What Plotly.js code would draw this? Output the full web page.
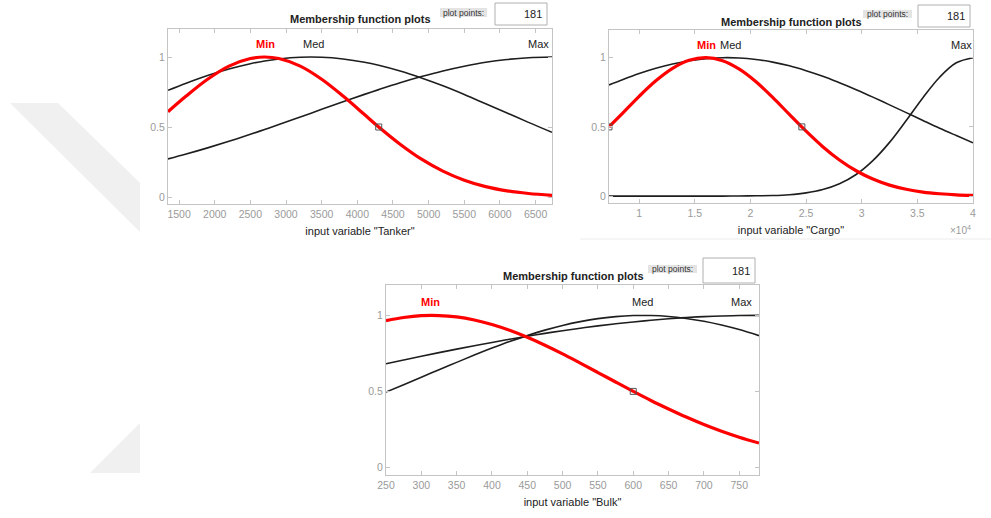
<!DOCTYPE html>
<html>
<head>
<meta charset="utf-8">
<script src="https://cdn.plot.ly/plotly-3.0.1.min.js"></script>
<style>
html,body{margin:0;padding:0;background:#fff;}
#chart{width:991px;height:518px;}
</style>
</head>
<body>
<div id="chart"></div>
<script>
// ---------- data ----------
const tankerX   = [1345,1600,1900,2200,2500,2700,2900,3200,3500,3800,4100,4300,4600,4900,5200,5500,5800,6100,6400,6730];
const tankerMin = [0.609,0.721,0.841,0.935,0.989,1.000,0.989,0.935,0.841,0.721,0.589,0.500,0.377,0.270,0.185,0.120,0.074,0.044,0.025,0.012];
const tankerMed = [0.762,0.813,0.868,0.914,0.952,0.972,0.986,0.998,0.998,0.986,0.963,0.941,0.900,0.850,0.794,0.732,0.666,0.600,0.533,0.462];
const tankerMax = [0.272,0.307,0.351,0.398,0.448,0.482,0.518,0.571,0.626,0.680,0.733,0.767,0.816,0.860,0.900,0.934,0.962,0.982,0.995,1.000];
const tankerTicks = [1500,2000,2500,3000,3500,4000,4500,5000,5500,6000,6500];
const tankerMarkX = [4300];
const tankerMarkY = [0.5];

const cargoX   = [7290,8500,10000,11500,13000,14500,16000,17500,19000,20500,22000,23500,25000,26500,28000,29500,31000,32500,34000,35500,37000,38500,40000];
const cargoMin = [0.500,0.598,0.721,0.833,0.923,0.981,1.000,0.978,0.917,0.826,0.713,0.590,0.469,0.357,0.261,0.183,0.123,0.079,0.049,0.029,0.017,0.009,0.005];
const cargoMed = [0.803,0.841,0.885,0.923,0.954,0.978,0.993,1.000,0.998,0.987,0.968,0.941,0.906,0.866,0.819,0.769,0.715,0.659,0.603,0.546,0.490,0.437,0.385];
const cargoMax = [0.000,0.000,0.000,0.000,0.000,0.000,0.000,0.000,0.001,0.002,0.004,0.010,0.023,0.047,0.089,0.156,0.256,0.388,0.546,0.711,0.859,0.963,1.000];
const cargoTicks = [10000,15000,20000,25000,30000,35000,40000];
const cargoTickText = ["1","1.5","2","2.5","3","3.5","4"];
const cargoMarkX = [7290,24620];
const cargoMarkY = [0.5,0.5];

const bulkX   = [250,275,300,325,350,375,400,425,450,475,500,525,550,575,600,625,650,675,700,725,750,778];
const bulkMin = [0.965,0.986,0.998,0.999,0.990,0.970,0.940,0.902,0.856,0.804,0.747,0.686,0.624,0.562,0.500,0.440,0.384,0.331,0.282,0.238,0.199,0.160];
const bulkMed = [0.496,0.544,0.593,0.643,0.691,0.739,0.785,0.828,0.867,0.903,0.934,0.959,0.979,0.992,0.999,0.999,0.993,0.980,0.962,0.937,0.907,0.867];
const bulkMax = [0.682,0.707,0.731,0.755,0.778,0.800,0.822,0.843,0.863,0.882,0.899,0.916,0.931,0.945,0.957,0.968,0.978,0.986,0.992,0.996,0.999,1.000];
const bulkTicks = [250,300,350,400,450,500,550,600,650,700,750];
const bulkMarkX = [600];
const bulkMarkY = [0.5];

const mfNames = ["Min","Med","Max"];
const yTicks = [0,0.5,1];
const yTickText = ["0","0.5","1"];
const panelTitle = "Membership function plots";
const xTitles = ['input variable "Tanker"','input variable "Cargo"','input variable "Bulk"'];
const plotPointsLabel = "plot points:";
const plotPointsValue = "181";

// ---------- helpers ----------
const W = 991, H = 518;
const px = v => v / W;
const py = v => 1 - v / H;
const FONT = "Liberation Sans, Arial, Helvetica, sans-serif";
const RED = "#ff0000", BLACK = "#1e1e1e", AXC = "#c4c4c4", TICKC = "#9a9a9a";

function curves(xs, mn, md, mx, xa, ya){
  const base = {type:"scatter", mode:"lines", xaxis:xa, yaxis:ya, hoverinfo:"skip", showlegend:false};
  return [
    Object.assign({}, base, {x:xs, y:md, name:mfNames[1], line:{color:BLACK, width:1.6, shape:"spline", smoothing:1}}),
    Object.assign({}, base, {x:xs, y:mx, name:mfNames[2], line:{color:BLACK, width:1.6, shape:"spline", smoothing:1}}),
    Object.assign({}, base, {x:xs, y:mn, name:mfNames[0], line:{color:RED, width:3.2, shape:"spline", smoothing:1}})
  ];
}
function marks(xs, ys, xa, ya){
  return {type:"scatter", mode:"markers", x:xs, y:ys, xaxis:xa, yaxis:ya, hoverinfo:"skip", showlegend:false,
    marker:{symbol:"square-open", size:6, color:"#555", line:{width:1, color:"#555"}}};
}

const data = [].concat(
  curves(tankerX, tankerMin, tankerMed, tankerMax, "x", "y"),
  [marks(tankerMarkX, tankerMarkY, "x", "y")],
  curves(cargoX, cargoMin, cargoMed, cargoMax, "x2", "y2"),
  [marks(cargoMarkX, cargoMarkY, "x2", "y2")],
  curves(bulkX, bulkMin, bulkMed, bulkMax, "x3", "y3"),
  [marks(bulkMarkX, bulkMarkY, "x3", "y3")]
);

function xAxis(dom, rng, tv, tt, title, anchor){
  const a = {domain:dom, range:rng, anchor:anchor, tickmode:"array", tickvals:tv,
    showline:true, linecolor:AXC, linewidth:1, mirror:"allticks", ticks:"inside", ticklen:4, tickcolor:AXC,
    showgrid:false, zeroline:false, tickfont:{family:FONT, size:10.5, color:TICKC},
    title:{text:title, font:{family:FONT, size:11, color:"#222"}, standoff:8}, fixedrange:true};
  if (tt) a.ticktext = tt;
  return a;
}
function yAxis(dom, anchor){
  return {domain:dom, range:[-0.05,1.2], anchor:anchor, tickmode:"array", tickvals:yTicks, ticktext:yTickText,
    showline:true, linecolor:AXC, linewidth:1, mirror:"allticks", ticks:"inside", ticklen:4, tickcolor:AXC,
    showgrid:false, zeroline:false, tickfont:{family:FONT, size:10.5, color:TICKC}, fixedrange:true};
}

const annotations = [];
const shapes = [];
function header(cx, cy, ppX0, ppX1, ppY0, ppY1, bx0, bx1, by0, by1){
  annotations.push({xref:"paper", yref:"paper", x:px(cx), y:py(cy), text:"<b>"+panelTitle+"</b>", showarrow:false,
    xanchor:"center", yanchor:"middle", font:{family:FONT, size:11, color:"#222"}});
  shapes.push({type:"rect", xref:"paper", yref:"paper", x0:px(ppX0), x1:px(ppX1), y0:py(ppY1), y1:py(ppY0),
    fillcolor:"#e4e4e4", line:{width:0}, layer:"above"});
  annotations.push({xref:"paper", yref:"paper", x:px((ppX0+ppX1)/2), y:py((ppY0+ppY1)/2), text:plotPointsLabel, showarrow:false,
    xanchor:"center", yanchor:"middle", font:{family:FONT, size:8.5, color:"#333"}});
  shapes.push({type:"rect", xref:"paper", yref:"paper", x0:px(bx0), x1:px(bx1), y0:py(by1), y1:py(by0),
    fillcolor:"#ffffff", line:{width:1, color:"#b0b0b0"}, layer:"above"});
  annotations.push({xref:"paper", yref:"paper", x:px(bx1-3), y:py((by0+by1)/2), text:plotPointsValue, showarrow:false,
    xanchor:"right", yanchor:"middle", font:{family:FONT, size:11, color:"#222"}});
}
header(360, 19, 440, 487, 8, 17, 495, 547, 3, 25);
header(791, 22, 863, 912, 10, 18, 918, 970, 5, 27);
header(573, 276, 648, 697, 265, 273, 703, 755, 258, 283);

function mfLabels(xa, ya, xs, yv){
  mfNames.forEach((n, i) => {
    annotations.push({xref:xa, yref:ya, x:xs[i], y:yv, text:i===0?"<b>"+n+"</b>":n, showarrow:false,
      xanchor:"center", yanchor:"middle", font:{family:FONT, size:11, color:i===0?RED:"#222"}});
  });
}
mfLabels("x", "y", [2719,3381,6545], 1.092);
mfLabels("x2", "y2", [16094,18200,38970], 1.089);
mfLabels("x3", "y3", [313,613,753], 1.087);

annotations.push({xref:"paper", yref:"paper", x:px(973), y:py(230), text:"×10<sup>4</sup>", showarrow:false,
  xanchor:"right", yanchor:"middle", font:{family:FONT, size:10, color:TICKC}});

// background watermark and faint separator
shapes.push({type:"path", xref:"paper", yref:"paper", layer:"below", fillcolor:"#f0f0f0", line:{width:0},
  path:"M "+px(10)+" "+py(103)+" L "+px(58)+" "+py(103)+" L "+px(140)+" "+py(183)+" L "+px(140)+" "+py(232)+" Z"});
shapes.push({type:"path", xref:"paper", yref:"paper", layer:"below", fillcolor:"#f0f0f0", line:{width:0},
  path:"M "+px(90)+" "+py(473)+" L "+px(140)+" "+py(473)+" L "+px(140)+" "+py(423)+" Z"});
shapes.push({type:"line", xref:"paper", yref:"paper", layer:"below", x0:px(580), x1:px(991), y0:py(239), y1:py(239),
  line:{color:"#ececec", width:1}});

const layout = {
  width:W, height:H, margin:{l:0, r:0, t:0, b:0},
  paper_bgcolor:"#ffffff", plot_bgcolor:"#ffffff", showlegend:false,
  xaxis: xAxis([px(168), px(552)], [1345,6730], tankerTicks, null, xTitles[0], "y"),
  yaxis: yAxis([py(204), py(29)], "x"),
  xaxis2: xAxis([px(609), px(973)], [7290,40000], cargoTicks, cargoTickText, xTitles[1], "y2"),
  yaxis2: yAxis([py(203), py(30)], "x2"),
  xaxis3: xAxis([px(386), px(759)], [250,778], bulkTicks, null, xTitles[2], "y3"),
  yaxis3: yAxis([py(475), py(285)], "x3"),
  annotations: annotations, shapes: shapes
};

Plotly.newPlot("chart", data, layout, {staticPlot:true, displayModeBar:false});
</script>
</body>
</html>
